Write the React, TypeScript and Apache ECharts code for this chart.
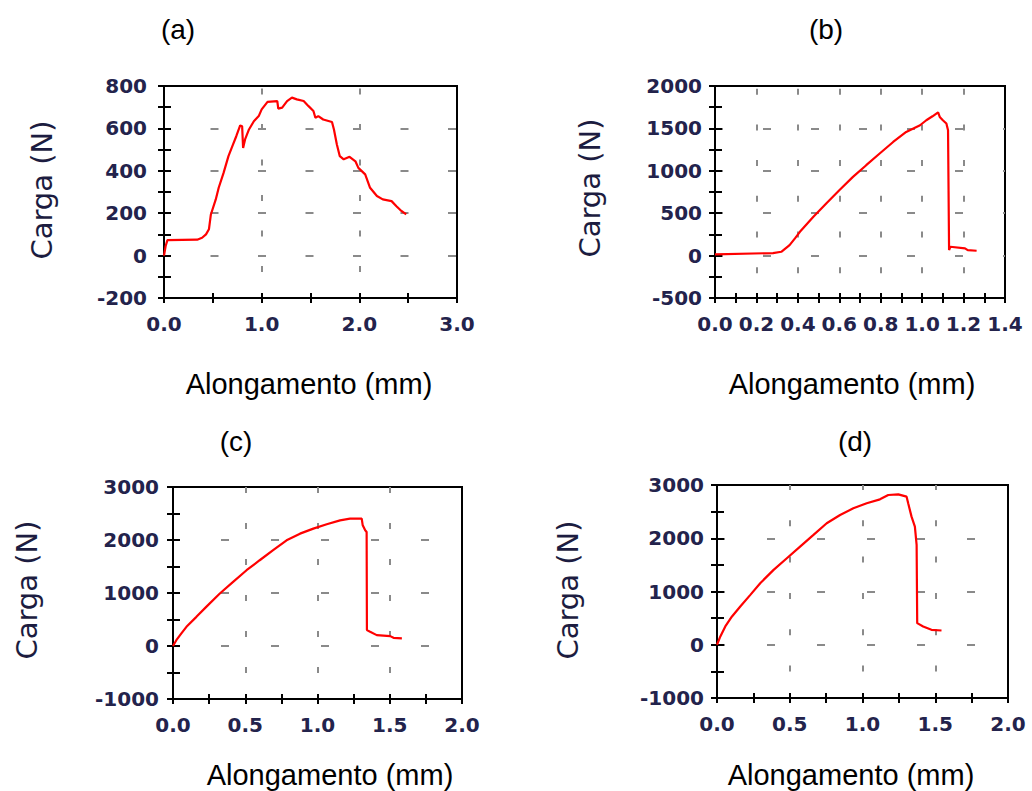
import React, { useEffect, useRef } from "react";
import * as echarts from "echarts";

// ---------- texts ----------
const panelLabels = ["(a)", "(b)", "(c)", "(d)"];
const xAxisTitle = "Alongamento (mm)";
const yAxisTitle = "Carga (N)";

// ---------- axis ranges: [min, max, labelStep] ----------
const xRanges = [
  [0, 3.0, 1.0],
  [0, 1.4, 0.2],
  [0, 2.0, 0.5],
  [0, 2.0, 0.5],
];
const yRanges = [
  [-200, 800, 200],
  [-500, 2000, 500],
  [-1000, 3000, 1000],
  [-1000, 3000, 1000],
];

// ---------- data (a) ----------
const xA = [0, 0.017, 0.035, 0.34, 0.39, 0.43, 0.46, 0.48, 0.53, 0.56, 0.61, 0.66, 0.7, 0.74, 0.78, 0.8, 0.81, 0.83, 0.87, 0.92, 0.97, 1.0, 1.06, 1.16, 1.17, 1.21, 1.26, 1.31, 1.36, 1.43, 1.48, 1.53, 1.55, 1.58, 1.63, 1.72, 1.74, 1.77, 1.8, 1.84, 1.9, 1.96, 1.99, 2.06, 2.11, 2.18, 2.24, 2.33, 2.38, 2.42, 2.48];
const yA = [0, 45, 73, 75, 84, 100, 124, 194, 265, 320, 390, 469, 516, 563, 614, 610, 508, 548, 595, 634, 658, 690, 725, 729, 693, 698, 729, 745, 737, 729, 705, 682, 650, 658, 642, 630, 595, 524, 469, 454, 466, 445, 414, 383, 320, 281, 265, 257, 233, 215, 194];

// ---------- data (b) ----------
const xB = [0, 0.28, 0.32, 0.36, 0.386, 0.41, 0.475, 0.537, 0.6, 0.666, 0.73, 0.795, 0.86, 0.923, 0.99, 1.02, 1.05, 1.077, 1.085, 1.1, 1.117, 1.125, 1.13, 1.136, 1.207, 1.22, 1.263];
const yB = [15, 30, 45, 124, 203, 280, 457, 615, 771, 928, 1066, 1204, 1340, 1458, 1537, 1596, 1643, 1690, 1635, 1596, 1557, 1478, 65, 104, 85, 65, 57];

// ---------- data (c) ----------
const xC = [0, 0.023, 0.058, 0.093, 0.162, 0.23, 0.324, 0.416, 0.509, 0.6, 0.693, 0.786, 0.879, 0.971, 1.064, 1.156, 1.225, 1.306, 1.313, 1.33, 1.34, 1.342, 1.364, 1.41, 1.503, 1.526, 1.584];
const yC = [0, 110, 237, 362, 550, 738, 991, 1210, 1430, 1618, 1807, 1995, 2120, 2215, 2296, 2371, 2403, 2403, 2277, 2183, 2150, 300, 268, 205, 186, 154, 143];

// ---------- data (d) ----------
const xD = [0, 0.023, 0.057, 0.103, 0.16, 0.229, 0.297, 0.389, 0.48, 0.571, 0.663, 0.754, 0.846, 0.937, 1.029, 1.12, 1.177, 1.246, 1.303, 1.314, 1.337, 1.36, 1.372, 1.376, 1.417, 1.474, 1.543];
const yD = [0, 156, 343, 531, 718, 937, 1156, 1406, 1625, 1843, 2062, 2281, 2437, 2562, 2656, 2731, 2812, 2825, 2781, 2656, 2406, 2218, 1875, 406, 343, 281, 268];

const seriesX = [xA, xB, xC, xD];
const seriesY = [yA, yB, yC, yD];

// ---------- layout ----------
const grids = [
  { left: 164, top: 86, width: 293, height: 212 },
  { left: 715, top: 86, width: 290, height: 212 },
  { left: 173, top: 487, width: 289, height: 212 },
  { left: 717, top: 485, width: 291, height: 213 },
];
const yLabelMargins = [17, 13, 14, 13];
// grid dash patterns: [dash, period, offset]
const hDash = [
  [8, 47.5, 0.5],
  [8, 48, 0],
  [8, 50, 1.6],
  [8, 50, 0],
];
const vDash = [
  [6, 35.5, 33.2],
  [6, 35.7, 33],
  [6, 36, 0],
  [6, 36.3, 1.3],
];
const titlePos = [
  [178, 29],
  [826, 29],
  [236, 441],
  [855, 441],
];
const xNamePos = [
  [309, 384],
  [852, 384],
  [330, 775],
  [851, 775],
];
const yNamePos = [
  [42, 190],
  [590, 188],
  [27, 590],
  [568, 590],
];

const LABEL_COLOR = "#23234c";
const LABEL_FONT = "DejaVu Sans";
const LABEL_SIZE = 20;

function isMultiple(v: number, step: number) {
  const r = v / step;
  return Math.abs(r - Math.round(r)) < 1e-6;
}

export default function App() {
  const ref = useRef<HTMLDivElement>(null);

  useEffect(() => {
    if (!ref.current) return;
    const chart = echarts.init(ref.current, undefined, { renderer: "svg" });

    const xAxes: any[] = [];
    const yAxes: any[] = [];
    const series: any[] = [];
    const graphics: any[] = [];

    grids.forEach((g, i) => {
      const [xmin, xmax, xstep] = xRanges[i];
      const [ymin, ymax, ystep] = yRanges[i];
      const tickStyle = { color: "#000", width: 2 };

      // main x axis
      xAxes.push({
        type: "value",
        gridIndex: i,
        position: "bottom",
        min: xmin,
        max: xmax,
        interval: xstep,
        axisLine: { show: true, onZero: false, lineStyle: { color: "#000", width: 2 } },
        axisTick: { show: true, inside: false, length: 5, lineStyle: tickStyle },
        minorTick: { show: true, splitNumber: 2, length: 5, lineStyle: tickStyle },
        axisLabel: {
          show: true,
          margin: 16,
          fontFamily: LABEL_FONT,
          fontSize: LABEL_SIZE,
          fontWeight: "bold",
          color: LABEL_COLOR,
          hideOverlap: false,
          formatter: (v: number) => (isMultiple(v, xstep) ? v.toFixed(1) : ""),
        },
        splitLine: {
          show: true,
          showMinLine: false,
          showMaxLine: false,
          lineStyle: {
            color: "#8a8a8a",
            width: 2,
            type: [vDash[i][0], vDash[i][1] - vDash[i][0]],
            dashOffset: vDash[i][2],
          },
        },
      });
      // inside ticks x axis
      xAxes.push({
        type: "value",
        gridIndex: i,
        position: "bottom",
        min: xmin,
        max: xmax,
        interval: xstep,
        axisLine: { show: true, onZero: false, lineStyle: { color: "#000", width: 2 } },
        axisTick: { show: true, inside: true, length: 5, lineStyle: tickStyle },
        minorTick: { show: true, splitNumber: 2, length: 5, lineStyle: tickStyle },
        axisLabel: { show: false },
        splitLine: { show: false },
      });

      // main y axis
      yAxes.push({
        type: "value",
        gridIndex: i,
        position: "left",
        min: ymin,
        max: ymax,
        interval: ystep,
        axisLine: { show: true, onZero: false, lineStyle: { color: "#000", width: 2 } },
        axisTick: { show: true, inside: false, length: 6, lineStyle: tickStyle },
        minorTick: { show: true, splitNumber: 2, length: 6, lineStyle: tickStyle },
        axisLabel: {
          show: true,
          margin: yLabelMargins[i],
          fontFamily: LABEL_FONT,
          fontSize: LABEL_SIZE,
          fontWeight: "bold",
          color: LABEL_COLOR,
          formatter: (v: number) => String(Math.round(v)),
        },
        splitLine: {
          show: true,
          showMinLine: false,
          showMaxLine: false,
          lineStyle: {
            color: "#8a8a8a",
            width: 2,
            type: [hDash[i][0], hDash[i][1] - hDash[i][0]],
            dashOffset: hDash[i][2],
          },
        },
      });
      // inside ticks y axis
      yAxes.push({
        type: "value",
        gridIndex: i,
        position: "left",
        min: ymin,
        max: ymax,
        interval: ystep,
        axisLine: { show: true, onZero: false, lineStyle: { color: "#000", width: 2 } },
        axisTick: { show: true, inside: true, length: 7, lineStyle: tickStyle },
        minorTick: { show: true, splitNumber: 2, length: 7, lineStyle: tickStyle },
        axisLabel: { show: false },
        splitLine: { show: false },
      });

      series.push({
        type: "line",
        xAxisIndex: i * 2,
        yAxisIndex: i * 2,
        data: seriesX[i].map((x, k) => [x, seriesY[i][k]]),
        showSymbol: false,
        symbol: "none",
        lineStyle: { color: "#ff0000", width: 2.2 },
        itemStyle: { color: "#ff0000" },
        z: 5,
      });

      graphics.push({
        type: "text",
        x: titlePos[i][0],
        y: titlePos[i][1],
        style: {
          text: panelLabels[i],
          fontFamily: "Liberation Sans",
          fontSize: 28,
          fill: "#000",
          align: "center",
          verticalAlign: "middle",
        },
      });
      graphics.push({
        type: "text",
        x: xNamePos[i][0],
        y: xNamePos[i][1],
        style: {
          text: xAxisTitle,
          fontFamily: "Liberation Sans",
          fontSize: 29,
          fill: "#000",
          align: "center",
          verticalAlign: "middle",
        },
      });
      graphics.push({
        type: "text",
        x: yNamePos[i][0],
        y: yNamePos[i][1],
        rotation: Math.PI / 2,
        style: {
          text: yAxisTitle,
          fontFamily: LABEL_FONT,
          fontSize: 29,
          fill: "#1c1c40",
          align: "center",
          verticalAlign: "middle",
        },
      });
    });

    chart.setOption({
      animation: false,
      backgroundColor: "#ffffff",
      grid: grids.map((g) => ({
        ...g,
        show: true,
        borderColor: "#000",
        borderWidth: 2,
        backgroundColor: "transparent",
        containLabel: false,
      })),
      xAxis: xAxes,
      yAxis: yAxes,
      series,
      graphic: graphics,
    });

    return () => {
      chart.dispose();
    };
  }, []);

  return (
    <div
      ref={ref}
      style={{ position: "absolute", left: 0, top: 0, width: 1032, height: 791 }}
    />
  );
}
